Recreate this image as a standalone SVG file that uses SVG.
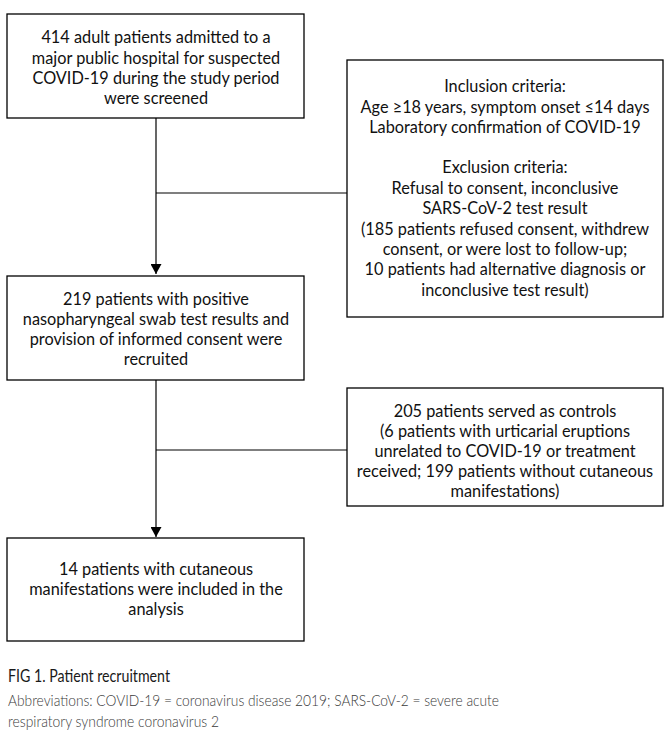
<svg xmlns="http://www.w3.org/2000/svg" width="670" height="746" viewBox="0 0 670 746">
<style>
.box{fill:#fff;stroke:#000;stroke-width:1.3}
.t{font-family:Lato,"Open Sans","DejaVu Sans",sans-serif;font-size:16.3px;fill:#111;text-anchor:middle}
.ln{stroke:#000;stroke-width:1.2;fill:none}
.cap{font-family:Lato,"Open Sans","DejaVu Sans",sans-serif;font-size:17px;fill:#1a1a1a}
.abbr{font-family:Lato,"Open Sans","DejaVu Sans",sans-serif;font-size:16.5px;fill:#3a3a3a;font-weight:300}
</style>
<defs>
<marker id="ah" viewBox="0 0 10 11" refX="10" refY="5.5" markerWidth="10" markerHeight="11" markerUnits="userSpaceOnUse" orient="auto">
<path d="M0,0 L10,5.5 L0,11 Z" fill="#000"/>
</marker>
</defs>
<rect width="670" height="746" fill="#fff"/>
<g id="connectors">
<line class="ln" x1="156" y1="118" x2="156" y2="274" marker-end="url(#ah)"/>
<line class="ln" x1="156" y1="193" x2="347" y2="193"/>
<line class="ln" x1="156" y1="380" x2="156" y2="537" marker-end="url(#ah)"/>
<line class="ln" x1="156" y1="450" x2="347" y2="450"/>
</g>
<g id="screened">
<rect class="box" x="7" y="14" width="297" height="104"/>
<text class="t" x="156" y="43">414 adult patients admitted to a</text>
<text class="t" x="156" y="63.5">major public hospital for suspected</text>
<text class="t" x="156" y="84">COVID-19 during the study period</text>
<text class="t" x="156" y="104">were screened</text>
</g>
<g id="criteria">
<rect class="box" x="347" y="60" width="316" height="257"/>
<text class="t" x="505" y="92">Inclusion criteria:</text>
<text class="t" x="505" y="112.5">Age ≥18 years, symptom onset ≤14 days</text>
<text class="t" x="505" y="132.5">Laboratory confirmation of COVID-19</text>
<text class="t" x="505" y="173">Exclusion criteria:</text>
<text class="t" x="505" y="193.5">Refusal to consent, inconclusive</text>
<text class="t" x="505" y="214">SARS-CoV-2 test result</text>
<text class="t" x="505" y="234.5">(185 patients refused consent, withdrew</text>
<text class="t" x="505" y="255">consent, or were lost to follow-up;</text>
<text class="t" x="505" y="275">10 patients had alternative diagnosis or</text>
<text class="t" x="505" y="295.5">inconclusive test result)</text>
</g>
<g id="recruited">
<rect class="box" x="7" y="276" width="297" height="104"/>
<text class="t" x="156" y="305">219 patients with positive</text>
<text class="t" x="156" y="325">nasopharyngeal swab test results and</text>
<text class="t" x="156" y="345">provision of informed consent were</text>
<text class="t" x="156" y="365">recruited</text>
</g>
<g id="controls">
<rect class="box" x="347" y="388" width="316" height="118"/>
<text class="t" x="505" y="417">205 patients served as controls</text>
<text class="t" x="505" y="437">(6 patients with urticarial eruptions</text>
<text class="t" x="505" y="457">unrelated to COVID-19 or treatment</text>
<text class="t" x="505" y="477">received; 199 patients without cutaneous</text>
<text class="t" x="505" y="497">manifestations)</text>
</g>
<g id="included">
<rect class="box" x="7" y="538" width="297" height="103"/>
<text class="t" x="156" y="575">14 patients with cutaneous</text>
<text class="t" x="156" y="595">manifestations were included in the</text>
<text class="t" x="156" y="615">analysis</text>
</g>
<g id="caption">
<text class="cap" x="8" y="682" textLength="162" lengthAdjust="spacingAndGlyphs">FIG 1. Patient recruitment</text>
<text class="abbr" x="8" y="706" textLength="491" lengthAdjust="spacingAndGlyphs">Abbreviations: COVID-19 = coronavirus disease 2019; SARS-CoV-2 = severe acute</text>
<text class="abbr" x="8" y="727" textLength="211" lengthAdjust="spacingAndGlyphs">respiratory syndrome coronavirus 2</text>
</g>
</svg>
